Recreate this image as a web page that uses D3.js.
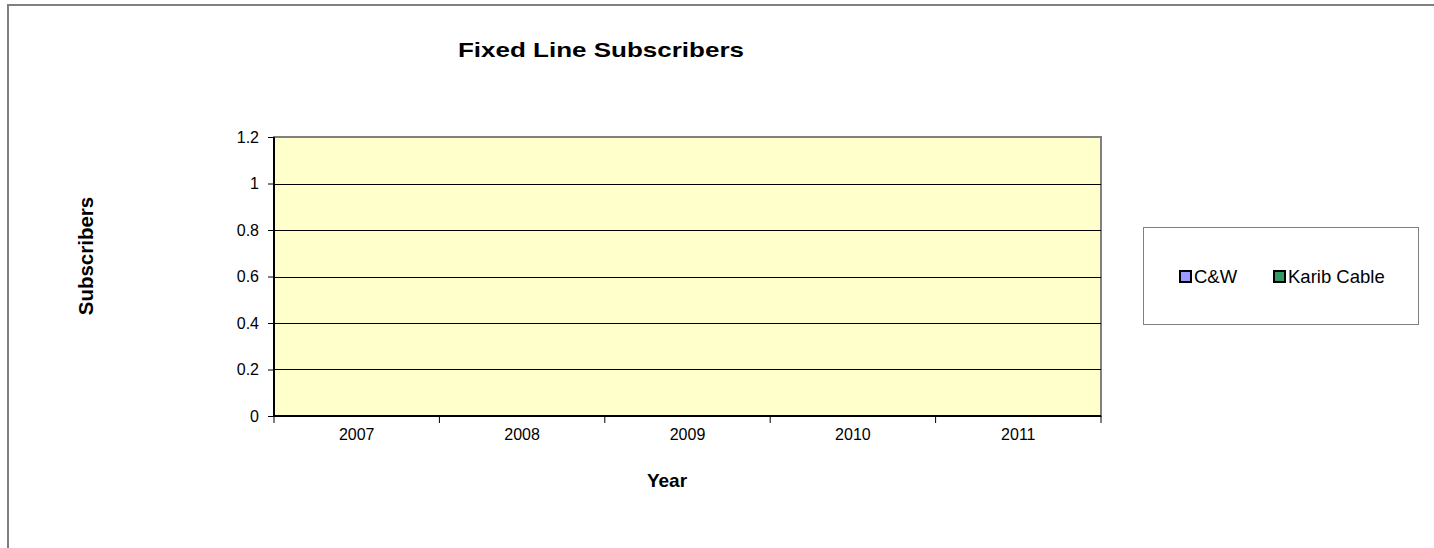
<!DOCTYPE html>
<html><head><meta charset="utf-8">
<script src="https://cdn.jsdelivr.net/npm/d3@7"></script>
<style>html,body{margin:0;background:#fff;overflow:hidden;}svg{display:block;font-family:"Liberation Sans",Arial,sans-serif;}</style>
</head><body><svg id="c" width="1434" height="548"></svg>
<script>
const categories = ["2007","2008","2009","2010","2011"];
const seriesNames = ["C&W","Karib Cable"];
const seriesColors = ["#9999ff","#339966"];
const cwValues = [0,0,0,0,0];
const karibValues = [0,0,0,0,0];
const yTicks = [0,0.2,0.4,0.6,0.8,1,1.2];

const svg = d3.select("#c");
// outer chart border (continues past the right and bottom edges)
svg.append("path").attr("d","M8,548V5H1434").attr("fill","none")
  .attr("stroke","#808080").attr("stroke-width",2);

const L=274, R=1101, T=137, B=416;
const x = d3.scaleBand().domain(categories).range([L,R]);
const y = d3.scaleLinear().domain([0,1.2]).range([B,T]);

svg.append("rect").attr("x",L).attr("y",T).attr("width",R-L).attr("height",B-T)
  .attr("fill","#ffffcc").attr("stroke","#808080").attr("stroke-width",2);

// gridlines
svg.append("g").selectAll("line").data(yTicks.filter(d=>d>0&&d<1.2)).join("line")
  .attr("x1",L).attr("x2",R).attr("y1",d=>Math.round(y(d))+0.5).attr("y2",d=>Math.round(y(d))+0.5)
  .attr("stroke","#000").attr("stroke-width",1);

// bars (zero values)
const xs = d3.scaleBand().domain(seriesNames).range([0,x.bandwidth()]).paddingInner(0).paddingOuter(0.75);
[cwValues,karibValues].forEach((vals,si)=>{
  svg.append("g").selectAll("rect").data(vals).join("rect")
    .attr("x",(d,i)=>x(categories[i])+xs(seriesNames[si]))
    .attr("width",xs.bandwidth())
    .attr("y",d=>y(d)).attr("height",d=>B-y(d))
    .attr("fill",seriesColors[si]).attr("stroke","#000");
});

// y axis
const ya = svg.append("g").attr("transform",`translate(${L},0)`)
  .call(d3.axisLeft(y).tickValues(yTicks).tickFormat(d=>String(d)).tickSize(6).tickPadding(9));
ya.select(".domain").attr("stroke","#000").attr("stroke-width",2).attr("d",`M0,${T}V${B}`);
ya.selectAll(".tick line").attr("stroke","#000");
ya.selectAll("text").attr("font-size",16).attr("fill","#000").attr("font-family","Liberation Sans, Arial, sans-serif");

// x axis
const xa = svg.append("g").attr("transform",`translate(0,${B})`)
  .call(d3.axisBottom(x).tickSize(0).tickPadding(13));
xa.select(".domain").attr("stroke","#000").attr("stroke-width",2).attr("d",`M${L},0H${R}`);
xa.selectAll("text").attr("font-size",16).attr("fill","#000").attr("font-family","Liberation Sans, Arial, sans-serif");
const bounds = categories.map(c=>x(c)).concat([R]);
xa.append("g").selectAll("line").data(bounds).join("line")
  .attr("x1",d=>d).attr("x2",d=>d).attr("y1",0).attr("y2",7).attr("stroke","#000");

// titles
svg.append("text").attr("transform","translate(601,57) scale(1.3,1)").attr("text-anchor","middle")
  .attr("font-size",20).attr("font-weight","bold").text("Fixed Line Subscribers");
svg.append("text").attr("x",667).attr("y",487).attr("text-anchor","middle")
  .attr("font-size",19).attr("font-weight","bold").text("Year");
svg.append("text").attr("transform","translate(93,256) rotate(-90)").attr("text-anchor","middle")
  .attr("font-size",20.5).attr("font-weight","bold").text("Subscribers");

// legend
const lg = svg.append("g");
lg.append("rect").attr("x",1143.5).attr("y",227.5).attr("width",275).attr("height",97)
  .attr("fill","#fff").attr("stroke","#808080").attr("stroke-width",1);
const lx = [1180, 1274];
seriesNames.forEach((n,i)=>{
  lg.append("rect").attr("x",lx[i]).attr("y",271).attr("width",11).attr("height",11)
    .attr("fill",seriesColors[i]).attr("stroke","#000").attr("stroke-width",2);
  lg.append("text").attr("x",lx[i]+14).attr("y",283).attr("font-size",18.5).text(n);
});
</script></body></html>
